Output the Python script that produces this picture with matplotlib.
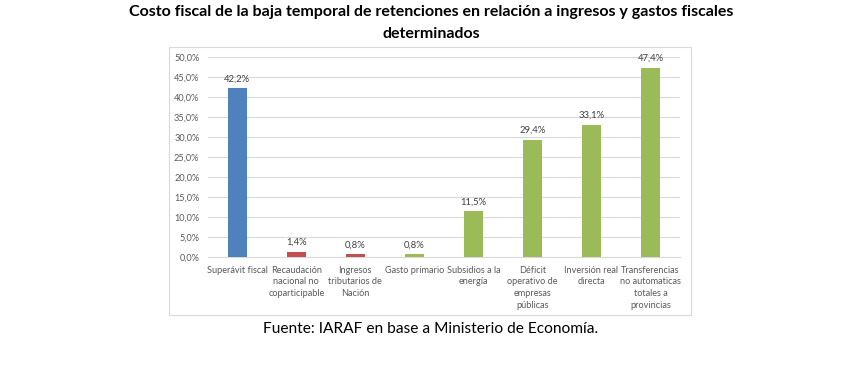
import matplotlib.pyplot as plt
from matplotlib.patches import Rectangle
import numpy as np

plt.rcParams['font.family'] = ['Lato', 'DejaVu Sans']

categories = ["Superávit fiscal", "Recaudación\nnacional no\ncoparticipable",
              "Ingresos\ntributarios de\nNación", "Gasto primario",
              "Subsidios a la\nenergía", "Déficit\noperativo de\nempresas\npúblicas",
              "Inversión real\ndirecta", "Transferencias\nno automaticas\ntotales a\nprovincias"]
values = [42.2, 1.4, 0.8, 0.8, 11.5, 29.4, 33.1, 47.4]
colors = ["#4F81BD", "#C0504D", "#C0504D", "#9BBB59", "#9BBB59", "#9BBB59", "#9BBB59", "#9BBB59"]
yticks = [0, 5, 10, 15, 20, 25, 30, 35, 40, 45, 50]

W, H = 862, 391
fig = plt.figure(figsize=(W / 100, H / 100), dpi=100)

# chart frame
fig.patches.append(Rectangle((169 / W, 1 - 315 / H), (691 - 169) / W, (315 - 47) / H,
                             transform=fig.transFigure, fill=False,
                             edgecolor="#D9D9D9", linewidth=0.8))

ax = fig.add_axes([207.7 / W, 1 - 257.3 / H, (680 - 207.7) / W, (257.3 - 57.3) / H])
x = np.arange(len(categories))
bars = ax.bar(x, values, width=0.32, color=colors, zorder=3)
for xi, v in zip(x, values):
    ax.text(xi, v + 1.2, f"{v:.1f}%".replace(".", ","), ha="center", va="bottom",
            fontsize=6.8, color="#404040")

ax.set_xlim(-0.5, len(categories) - 0.5)
ax.set_ylim(0, 50)
ax.set_yticks(yticks)
ax.set_yticklabels([f"{t:.1f}%".replace(".", ",") for t in yticks])
ax.set_xticks(x)
ax.set_xticklabels(categories, linespacing=1.4)
ax.tick_params(axis="both", length=0, labelsize=6.6, labelcolor="#595959")
ax.tick_params(axis="y", pad=6)
ax.tick_params(axis="x", pad=6)
ax.grid(axis="y", color="#D9D9D9", linewidth=0.8, zorder=0)
for s in ["top", "right", "left"]:
    ax.spines[s].set_visible(False)
ax.spines["bottom"].set_color("#D9D9D9")
ax.spines["bottom"].set_linewidth(0.8)

fig.text(0.5, 1 - 12 / H, "Costo fiscal de la baja temporal de retenciones en relación a ingresos y gastos fiscales",
         ha="center", va="center", fontsize=11.5, fontweight="bold")
fig.text(0.5, 1 - 34 / H, "determinados", ha="center", va="center", fontsize=11.5, fontweight="bold")
fig.text(0.5, 1 - 329 / H, "Fuente: IARAF en base a Ministerio de Economía.", ha="center", va="center",
         fontsize=11.2)

fig.savefig("out.png", dpi=100)
